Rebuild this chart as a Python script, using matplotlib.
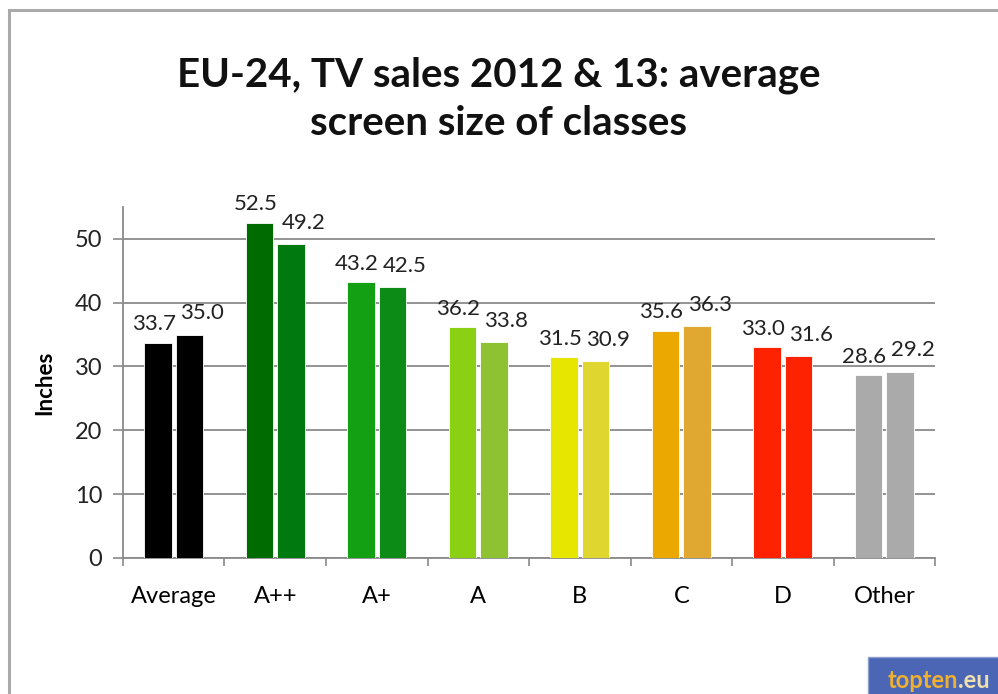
import matplotlib
matplotlib.use("Agg")
import matplotlib.pyplot as plt
from matplotlib.patches import Rectangle
import numpy as np

plt.rcParams["font.family"] = ["Lato", "DejaVu Sans"]

categories = ["Average", "A++", "A+", "A", "B", "C", "D", "Other"]
sales_2012 = [33.7, 52.5, 43.2, 36.2, 31.5, 35.6, 33.0, 28.6]
sales_2013 = [35.0, 49.2, 42.5, 33.8, 30.9, 36.3, 31.6, 29.2]
colors_2012 = ["#000000", "#006b00", "#13a013", "#8cd014", "#e6e600",
               "#eaa800", "#ff2200", "#aaaaaa"]
colors_2013 = ["#000000", "#007a0e", "#0c8c16", "#8ec232", "#e0d630",
               "#e0a830", "#ff2200", "#aaaaaa"]

fig = plt.figure(figsize=(9.98, 6.94), dpi=100)
ax = fig.add_axes([0.1232, 0.196, 0.8138, 0.506])

x = np.arange(len(categories))
w = 0.27
gap = 0.02
b1 = ax.bar(x - w / 2 - gap, sales_2012, w, color=colors_2012,
            edgecolor="white", linewidth=0.6, zorder=3)
b2 = ax.bar(x + w / 2 + gap, sales_2013, w, color=colors_2013,
            edgecolor="white", linewidth=0.6, zorder=3)

# value labels, roughly where the original puts them
for bars, vals, dx, dy in ((b1, sales_2012, -3, 6), (b2, sales_2013, 9, 8)):
    for b, v in zip(bars, vals):
        ax.annotate(f"{v:.1f}", (b.get_x() + b.get_width() / 2, v),
                    xytext=(dx, dy), textcoords="offset points",
                    ha="center", va="bottom", fontsize=16, color="#222222",
                    zorder=4)

ax.set_xlim(-0.5, len(categories) - 0.5)
ax.set_ylim(0, 55)
ax.set_yticks([0, 10, 20, 30, 40, 50])
ax.yaxis.grid(True, color="#8a8a8a", lw=1.3, zorder=0)
ax.set_xticks(x)
ax.set_xticklabels(categories, fontsize=17)
ax.set_xticks(np.arange(-0.5, len(categories)), minor=True)
ax.tick_params(axis="x", which="major", length=0, pad=20)
ax.tick_params(axis="x", which="minor", length=6, width=1.2, color="#8a8a8a")
ax.tick_params(axis="y", length=7, width=1.2, color="#8a8a8a", labelsize=17,
               pad=8, labelcolor="#222222")
for s in ("top", "right"):
    ax.spines[s].set_visible(False)
for s in ("left", "bottom"):
    ax.spines[s].set_color("#8a8a8a")
    ax.spines[s].set_linewidth(1.3)
ax.set_ylabel("Inches", fontsize=16, fontweight="bold", labelpad=14)

fig.text(0.5, 0.857, "EU-24, TV sales 2012 & 13: average\nscreen size of classes",
         ha="center", va="center", fontsize=29, fontweight="bold",
         linespacing=1.38, color="#111111")

# frame of the slide
fig.add_artist(Rectangle((0.009, -0.01), 1.1, 0.996, transform=fig.transFigure,
                         fill=False, edgecolor="#aaaaaa", lw=2.2))

# logo, cut off at the corner like in the original
fig.add_artist(Rectangle((0.87, -0.01), 0.14, 0.063, transform=fig.transFigure,
                         facecolor="#4a66b4", edgecolor="#8fa0d0", lw=1))
fig.text(0.96, 0.02, "topten", color="#f0b030", fontsize=17, fontweight="bold",
         va="center", ha="right")
fig.text(0.96, 0.02, ".eu", color="#f0e0b0", fontsize=17, fontweight="bold",
         va="center", ha="left")

fig.savefig("out.png", dpi=100)
